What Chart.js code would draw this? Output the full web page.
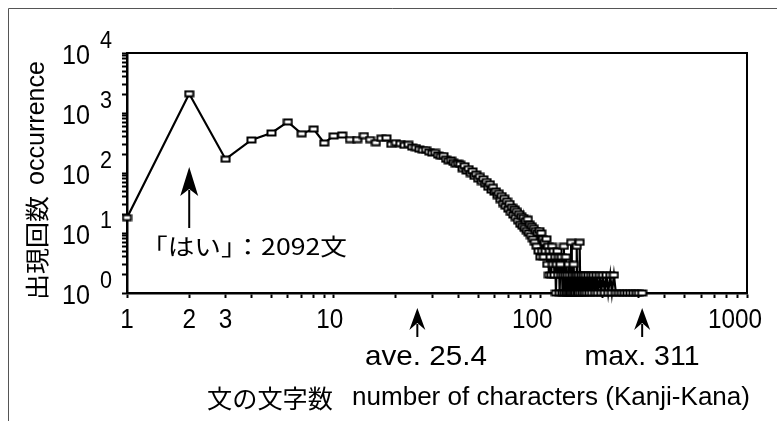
<!DOCTYPE html>
<html>
<head>
<meta charset="utf-8">
<script src="https://cdn.jsdelivr.net/npm/chart.js@4.4.0/dist/chart.umd.min.js"></script>
<style>
  html, body { margin: 0; padding: 0; background: #fff; }
  #wrap { position: relative; width: 777px; height: 421px; }
</style>
</head>
<body>
<div id="wrap"><canvas id="length-canvas" width="777" height="421"></canvas></div>
<script>
"use strict";

// sentence length (number of characters) -> number of sentences
var lengths = [
  1, 2, 3, 4, 5, 6, 7, 8, 9, 10,
  11, 12, 13, 14, 15, 16, 17, 18, 19, 20,
  21, 22, 23, 24, 25, 26, 27, 28, 29, 30,
  31, 32, 33, 34, 35, 36, 37, 38, 39, 40,
  41, 42, 43, 44, 45, 46, 47, 48, 49, 50,
  51, 52, 53, 54, 55, 56, 57, 58, 59, 60,
  61, 62, 63, 64, 65, 66, 67, 68, 69, 70,
  71, 72, 73, 74, 75, 76, 77, 78, 79, 80,
  81, 82, 83, 84, 85, 86, 87, 88, 89, 90,
  91, 92, 93, 94, 95, 96, 97, 98, 99, 100,
  101, 102, 103, 104, 105, 106, 107, 108, 109, 110,
  111, 112, 113, 114, 115, 116, 117, 118, 119, 120,
  121, 122, 123, 124, 125, 126, 127, 128, 129, 130,
  131, 132, 133, 134, 135, 136, 137, 138, 139, 140,
  141, 142, 143, 144, 145, 146, 147, 148, 149, 150,
  151, 152, 153, 154, 155, 156, 158, 160, 162, 164,
  166, 168, 171, 173, 176, 178, 181, 184, 187, 190,
  194, 197, 201, 205, 209, 213, 218, 222, 227, 232,
  240, 248, 256, 264, 273, 282, 291, 300, 311
];
var counts = [
  18, 2092, 170, 355, 465, 710, 450, 540, 316, 415,
  430, 360, 360, 420, 360, 320, 380, 385, 300, 320,
  310, 290, 300, 270, 265, 250, 240, 245, 225, 215,
  220, 200, 190, 195, 170, 160, 165, 150, 140, 145,
  140, 118, 132, 108, 118, 98, 108, 88, 96, 80,
  88, 72, 80, 66, 72, 58, 66, 52, 58, 48,
  50, 42, 46, 36, 42, 31, 38, 28, 34, 25,
  31, 22, 27, 20, 25, 18, 23, 16, 21, 14,
  19, 13, 18, 12, 16, 11, 17, 10, 14, 9,
  13, 8, 12, 7, 11, 6, 10, 5, 11, 4,
  10, 5, 8, 4, 7, 5, 8, 3, 6, 2,
  5, 4, 2, 6, 3, 5, 2, 4, 1, 3,
  5, 2, 4, 1, 3, 2, 4, 1, 2, 6,
  1, 2, 4, 1, 2, 1, 3, 1, 2, 1,
  7, 1, 2, 1, 3, 1, 2, 1, 2, 6,
  1, 2, 1, 2, 7, 1, 2, 1, 2, 1,
  2, 1, 2, 1, 2, 1, 2, 1, 2, 1,
  2, 1, 2, 1, 2, 1, 2, 1, 2, 1,
  1, 1, 1, 1, 1, 1, 1, 1, 1
];

var xTickLabels = ["1", "2", "3", "10", "100", "1000"];
var yTickExponents = ["0", "1", "2", "3", "4"];

var haiLength = 2;
var haiLabel = "「はい」：2092文";
var aveLength = 25.4;
var aveLabel = "ave. 25.4";
var maxLength = 311;
var maxLabel = "max. 311";

var LATIN = "'Liberation Sans', Arial, Helvetica, sans-serif";
var CJK = "'Noto Sans CJK JP', 'Noto Sans CJK SC', sans-serif";

// hollow flat square marker like the original
var marker = document.createElement("canvas");
marker.width = 11;
marker.height = 8;
var mctx = marker.getContext("2d");
mctx.fillStyle = "#fff";
mctx.fillRect(1, 1, 9, 6);
mctx.strokeStyle = "#000";
mctx.lineWidth = 2;
mctx.strokeRect(1.5, 1.5, 8, 5);

// draw text squeezed/stretched to a given width
function fitText(ctx, text, x, y, font, width, align) {
  ctx.save();
  ctx.font = font;
  var w = ctx.measureText(text).width;
  var sx = width / w;
  var left = x;
  if (align === "center") left = x - width / 2;
  if (align === "right") left = x - width;
  ctx.textBaseline = "middle";
  ctx.textAlign = "left";
  ctx.fillStyle = "#000";
  ctx.translate(left, y);
  ctx.scale(sx, 1);
  ctx.fillText(text, 0, 0);
  ctx.restore();
}

function arrowUp(ctx, x, tipY, baseY, headW, headH) {
  ctx.save();
  ctx.strokeStyle = "#000";
  ctx.fillStyle = "#000";
  ctx.lineWidth = 2;
  ctx.beginPath();
  ctx.moveTo(x, tipY + headH - 6);
  ctx.lineTo(x, baseY);
  ctx.stroke();
  ctx.beginPath();
  ctx.moveTo(x, tipY);
  ctx.lineTo(x + headW / 2, tipY + headH);
  ctx.lineTo(x, tipY + headH - 7);
  ctx.lineTo(x - headW / 2, tipY + headH);
  ctx.closePath();
  ctx.fill();
  ctx.restore();
}

function keepWholeTicks(scale) {
  scale.ticks = scale.ticks.filter(function (t) {
    var m = t.value / Math.pow(10, Math.floor(Math.log10(t.value) + 1e-9));
    return Math.abs(m - Math.round(m)) < 1e-6;
  });
}

var decorations = {
  id: "decorations",
  beforeDraw: function (chart) {
    var ctx = chart.ctx;
    ctx.save();
    ctx.fillStyle = "#fff";
    ctx.fillRect(0, 0, chart.width, chart.height);
    // outer frame
    ctx.strokeStyle = "#555";
    ctx.lineWidth = 1;
    ctx.beginPath();
    ctx.moveTo(8.5, chart.height);
    ctx.lineTo(8.5, 8.5);
    ctx.lineTo(chart.width, 8.5);
    ctx.stroke();
    ctx.restore();
  },
  afterDraw: function (chart) {
    var ctx = chart.ctx;
    var area = chart.chartArea;
    var xs = chart.scales.x;
    var ys = chart.scales.y;

    // top and right edges of the box
    ctx.save();
    ctx.strokeStyle = "#000";
    ctx.lineWidth = 2;
    ctx.beginPath();
    ctx.moveTo(area.left, area.top);
    ctx.lineTo(area.right, area.top);
    ctx.lineTo(area.right, area.bottom);
    ctx.stroke();
    ctx.restore();

    // y tick labels 10^n
    yTickExponents.forEach(function (e) {
      var py = ys.getPixelForValue(Math.pow(10, Number(e)));
      fitText(ctx, "10", 90, py + 3, "28px " + LATIN, 28, "right");
      fitText(ctx, e, 100, py - 12, "24px " + LATIN, 12, "left");
    });

    // x tick labels
    xTickLabels.forEach(function (lbl) {
      var px = xs.getPixelForValue(Number(lbl)) - (lbl.length - 1) * 4;
      fitText(ctx, lbl, px, 320, "28px " + LATIN, 13.5 * lbl.length, "center");
    });

    // arrows and notes
    var hx = xs.getPixelForValue(haiLength);
    arrowUp(ctx, hx, 167, 228, 18, 29);
    fitText(ctx, haiLabel, 141, 246, "23px " + CJK, 206, "left");

    var ax = xs.getPixelForValue(aveLength);
    arrowUp(ctx, ax, 308, 337, 16, 22);
    fitText(ctx, aveLabel, 426, 357, "28px " + LATIN, 122, "center");

    var mx = xs.getPixelForValue(maxLength);
    arrowUp(ctx, mx, 308, 337, 16, 22);
    fitText(ctx, maxLabel, 642, 357, "28px " + LATIN, 115, "center");

    // axis titles
    fitText(ctx, "文の文字数", 207, 398, "25px " + CJK, 126, "left");
    fitText(ctx, "number of characters (Kanji-Kana)", 352, 398, "25px " + LATIN, 398, "left");

    ctx.save();
    ctx.translate(37, 300);
    ctx.rotate(-Math.PI / 2);
    fitText(ctx, "出現回数", 0, 0, "24px " + CJK, 104, "left");
    fitText(ctx, "occurrence", 115, 0, "25px " + LATIN, 124, "left");
    ctx.restore();
  }
};

var lengthCanvas = document.getElementById("length-canvas");

var lengthChart = new Chart(lengthCanvas, {
  type: "scatter",
  data: {
    datasets: [
      {
        data: lengths.map(function (l, i) { return { x: l, y: counts[i] }; }),
        showLine: true,
        borderColor: "#000",
        borderWidth: 2.2,
        backgroundColor: "#fff",
        pointStyle: marker,
        pointRadius: 4,
        pointHoverRadius: 4,
        tension: 0,
        clip: false,
      },
    ],
  },
  options: {
    responsive: false,
    animation: false,
    devicePixelRatio: 1,
    layout: { padding: { left: 122, right: 30, top: 53, bottom: 123 } },
    plugins: { legend: { display: false }, tooltip: { enabled: false } },
    scales: {
      x: {
        type: "logarithmic",
        min: 1,
        max: 1000,
        afterBuildTicks: keepWholeTicks,
        ticks: { display: false },
        grid: { drawOnChartArea: false, drawTicks: true, tickLength: 5, tickWidth: 2, tickColor: "#000" },
        border: { color: "#000", width: 2.5 },
      },
      y: {
        type: "logarithmic",
        min: 1,
        max: 10000,
        afterBuildTicks: keepWholeTicks,
        ticks: { display: false },
        grid: { drawOnChartArea: false, drawTicks: true, tickLength: 5, tickWidth: 2, tickColor: "#000" },
        border: { color: "#000", width: 2.5 },
      },
    },
  },
  plugins: [decorations],
});
</script>
</body>
</html>
